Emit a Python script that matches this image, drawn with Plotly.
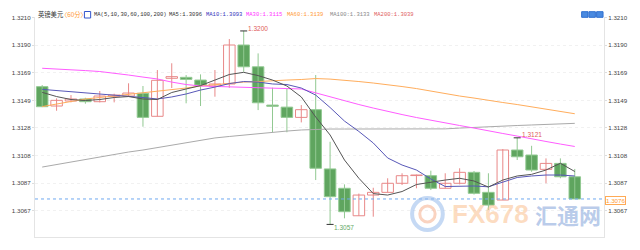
import plotly.graph_objects as go

# ---------------- data ----------------
OPEN = [1.31588, 1.31445, 1.31482, 1.31497, 1.31477, 1.31517, 1.31519, 1.31539, 1.31369, 1.31650,
        1.31657, 1.31637, 1.31593, 1.31608, 1.31896, 1.31735, 1.31452, 1.31437, 1.31361, 1.31418,
        1.30980, 1.30837, 1.30634, 1.30787, 1.30807, 1.30874, 1.30931, 1.30930, 1.30837, 1.30874,
        1.30955, 1.30807, 1.30750, 1.31120, 1.31083, 1.30977, 1.31021, 1.30922]
HIGH = [1.31600, 1.31502, 1.31526, 1.31506, 1.31556, 1.31536, 1.31613, 1.31593, 1.31711, 1.31761,
        1.31674, 1.31679, 1.31711, 1.31940, 1.32000, 1.31834, 1.31580, 1.31571, 1.31452, 1.31674,
        1.31181, 1.30866, 1.30798, 1.30841, 1.30911, 1.30948, 1.30938, 1.30967, 1.30948, 1.30985,
        1.30965, 1.30948, 1.31127, 1.31210, 1.31151, 1.31058, 1.31058, 1.30980]
LOW = [1.31437, 1.31410, 1.31472, 1.31462, 1.31472, 1.31472, 1.31514, 1.31292, 1.31369, 1.31578,
       1.31465, 1.31445, 1.31514, 1.31580, 1.31698, 1.31415, 1.31251, 1.31251, 1.31324, 1.30898,
       1.30570, 1.30615, 1.30634, 1.30627, 1.30807, 1.30861, 1.30837, 1.30824, 1.30837, 1.30866,
       1.30791, 1.30676, 1.30750, 1.31046, 1.30959, 1.30874, 1.30911, 1.30758]
CLOSE = [1.31440, 1.31487, 1.31497, 1.31477, 1.31519, 1.31526, 1.31541, 1.31361, 1.31635, 1.31662,
         1.31642, 1.31600, 1.31608, 1.31896, 1.31735, 1.31469, 1.31443, 1.31361, 1.31418, 1.30985,
         1.30775, 1.30664, 1.30787, 1.30807, 1.30874, 1.30930, 1.30935, 1.30837, 1.30874, 1.30955,
         1.30800, 1.30713, 1.31120, 1.31070, 1.30972, 1.31021, 1.30922, 1.30758]

MA5 = [1.31546, 1.31515, 1.31493, 1.31486, 1.31493, 1.31508, 1.31515, 1.31497, 1.31493, 1.31545,
       1.31571, 1.31596, 1.31637, 1.31678, 1.31694, 1.31670, 1.31637, 1.31593, 1.31512, 1.31364,
       1.31231, 1.31046, 1.30911, 1.30798, 1.30787, 1.30813, 1.30865, 1.30883, 1.30898, 1.30911,
       1.30891, 1.30846, 1.30898, 1.30928, 1.30940, 1.30972, 1.31022, 1.30961]
MA10 = [1.31568, 1.31560, 1.31552, 1.31541, 1.31534, 1.31526, 1.31519, 1.31508, 1.31497, 1.31512,
        1.31534, 1.31563, 1.31585, 1.31611, 1.31626, 1.31622, 1.31608, 1.31604, 1.31578, 1.31526,
        1.31434, 1.31334, 1.31257, 1.31172, 1.31061, 1.31009, 1.30972, 1.30906, 1.30850, 1.30854,
        1.30854, 1.30848, 1.30883, 1.30917, 1.30928, 1.30935, 1.30935, 1.30928]
MA30 = [1.31724, 1.31720, 1.31715, 1.31707, 1.31700, 1.31689, 1.31674, 1.31659, 1.31645, 1.31622,
        1.31604, 1.31593, 1.31589, 1.31585, 1.31582, 1.31578, 1.31574, 1.31574, 1.31571, 1.31541,
        1.31512, 1.31482, 1.31456, 1.31430, 1.31404, 1.31382, 1.31360, 1.31342, 1.31319, 1.31301,
        1.31282, 1.31260, 1.31242, 1.31223, 1.31201, 1.31183, 1.31164, 1.31146]
MA60 = [1.31441, 1.31460, 1.31482, 1.31497, 1.31508, 1.31519, 1.31530, 1.31541, 1.31552, 1.31563,
        1.31578, 1.31593, 1.31604, 1.31615, 1.31622, 1.31626, 1.31633, 1.31637, 1.31641, 1.31648,
        1.31644, 1.31637, 1.31626, 1.31615, 1.31604, 1.31589, 1.31574, 1.31556, 1.31534, 1.31519,
        1.31504, 1.31486, 1.31471, 1.31456, 1.31438, 1.31419, 1.31401, 1.31388]
MA100 = [1.30994, 1.31013, 1.31031, 1.31050, 1.31068, 1.31087, 1.31105, 1.31120, 1.31138, 1.31157,
         1.31175, 1.31194, 1.31209, 1.31220, 1.31231, 1.31242, 1.31253, 1.31260, 1.31268, 1.31273,
         1.31275, 1.31275, 1.31275, 1.31275, 1.31275, 1.31275, 1.31275, 1.31275, 1.31276, 1.31282,
         1.31288, 1.31292, 1.31297, 1.31301, 1.31305, 1.31308, 1.31312, 1.31317]

TICK_VALS = [1.306699, 1.308742, 1.310785, 1.312828, 1.314871, 1.316914, 1.318957, 1.321000]
TICK_TEXT = ["1.3067", "1.3087", "1.3108", "1.3128", "1.3149", "1.3169", "1.3190", "1.3210"]

LEGEND_ITEMS = [("MA5:1.3096", "#333333"), ("MA10:1.3093", "#3333bb"), ("MA30:1.3115", "#ff33ff"),
                ("MA60:1.3139", "#ff9933"), ("MA100:1.3133", "#888888"), ("MA200:1.3039", "#e06060")]

# ---------------- figure ----------------
N = len(OPEN)
X = list(range(N))
inc = [c >= o for o, c in zip(OPEN, CLOSE)]

GREEN_FILL = "#5fa55f"
GREEN_LINE = "#92c992"
RED_LINE = "#e88888"

fig = go.Figure()


def wick(mask):
    xs, ys = [], []
    for i in X:
        if mask[i]:
            xs += [i, i, None]
            ys += [LOW[i], HIGH[i], None]
    return xs, ys


wx, wy = wick(inc)
fig.add_trace(go.Scatter(x=wx, y=wy, mode="lines", line=dict(color=RED_LINE, width=1),
                         hoverinfo="skip", showlegend=False))
wx, wy = wick([not v for v in inc])
fig.add_trace(go.Scatter(x=wx, y=wy, mode="lines", line=dict(color=GREEN_LINE, width=1),
                         hoverinfo="skip", showlegend=False))

ii = [i for i in X if inc[i]]
fig.add_trace(go.Bar(x=ii, base=[OPEN[i] for i in ii], y=[CLOSE[i] - OPEN[i] for i in ii],
                     width=0.8, marker=dict(color="white", line=dict(color=RED_LINE, width=1)),
                     showlegend=False))
dd = [i for i in X if not inc[i]]
fig.add_trace(go.Bar(x=dd, base=[OPEN[i] for i in dd], y=[CLOSE[i] - OPEN[i] for i in dd],
                     width=0.8, marker=dict(color=GREEN_FILL, line=dict(color=GREEN_LINE, width=1)),
                     showlegend=False))

for vals, col in [(MA100, "#aaaaaa"), (MA60, "#ffad5c"), (MA30, "#ff5cff"),
                  (MA10, "#5858b8"), (MA5, "#555555")]:
    fig.add_trace(go.Scatter(x=X, y=vals, mode="lines", line=dict(color=col, width=1),
                             hoverinfo="skip", showlegend=False))

# extreme markers
ih = HIGH.index(max(HIGH))
il = LOW.index(min(LOW))
ih2 = 33
fig.add_trace(go.Scatter(x=[ih, il, ih2], y=[HIGH[ih], LOW[il], HIGH[ih2]], mode="markers",
                         marker=dict(symbol="line-ew", size=5, line=dict(color="#333", width=1)),
                         showlegend=False, hoverinfo="skip"))

# right axis carrier (invisible)
fig.add_trace(go.Scatter(x=X, y=CLOSE, yaxis="y2", mode="lines", line=dict(width=0),
                         opacity=0, showlegend=False, hoverinfo="skip"))

YR = [1.30477, 1.32103]
axis_common = dict(range=YR, tickvals=TICK_VALS, ticktext=TICK_TEXT, showgrid=True,
                   gridcolor="#f1f1f1", griddash="dot", zeroline=False,
                   tickfont=dict(family="Liberation Sans, Arial", size=6.2, color="#444"),
                   ticks="outside", ticklen=2, tickcolor="#dddddd",
                   showline=True, linecolor="#e4e4e4", linewidth=1)

fig.update_layout(
    width=640, height=250,
    margin=dict(l=22, r=25, t=17, b=13),
    paper_bgcolor="white", plot_bgcolor="white",
    barmode="overlay",
    showlegend=False,
    xaxis=dict(range=[-0.5, 39.03], showticklabels=False, showgrid=False, zeroline=False,
               showline=True, linecolor="#e4e4e4", ticks=""),
    yaxis=dict(side="left", **axis_common),
    yaxis2=dict(side="right", overlaying="y", **axis_common),
)

# current price line
last = CLOSE[-1]
fig.add_shape(type="line", xref="paper", x0=0, x1=1, yref="y", y0=last, y1=last,
              line=dict(color="#6fa8f0", width=1, dash="dot"))
fig.add_annotation(xref="paper", x=1, xanchor="left", xshift=1, yref="y", y=last, yshift=-2,
                   text=f"{last:.4f}", showarrow=False, bgcolor="white",
                   bordercolor="#ffaa55", borderwidth=1, borderpad=0,
                   font=dict(family="Liberation Sans, Arial", size=6.2, color="#ff9933"))

# high / low labels
lab_font = dict(family="Liberation Sans, Arial", size=6.5)
fig.add_annotation(x=ih + 0.15, y=HIGH[ih] + 0.00016, xanchor="left", yanchor="middle",
                   text=f"{HIGH[ih]:.4f}", showarrow=False, font=dict(color="#e05a5a", **lab_font))
fig.add_annotation(x=ih2 + 0.2, y=HIGH[ih2] + 0.00028, xanchor="left", yanchor="middle",
                   text=f"{HIGH[ih2]:.4f}", showarrow=False, font=dict(color="#e05a5a", **lab_font))
fig.add_annotation(x=il + 0.15, y=LOW[il] - 0.00021, xanchor="left", yanchor="middle",
                   text=f"{LOW[il]:.4f}", showarrow=False, font=dict(color="#66aa66", **lab_font))

# header
def px(p):
    return (p - 22) / 593.0


def py(p):
    return (237 - p) / 220.0


hdr_y = py(14.8)
mono = "Liberation Mono, DejaVu Sans Mono, monospace"
fig.add_annotation(xref="paper", yref="paper", x=px(23), y=hdr_y, xanchor="left", yanchor="middle",
                   text="英镑美元", showarrow=False,
                   font=dict(family="Noto Sans CJK SC", size=6.3, color="#333"))
fig.add_annotation(xref="paper", yref="paper", x=px(47.5), y=hdr_y, xanchor="left", yanchor="middle",
                   text="〈60分〉", showarrow=False,
                   font=dict(family="Noto Sans CJK SC", size=6.3, color="#ff9933"))
fig.add_shape(type="rect", xref="paper", yref="paper", x0=px(73.5), x1=px(80), y0=py(18), y1=py(11.5),
              line=dict(color="#3355cc", width=1), fillcolor="white")
fig.add_annotation(xref="paper", yref="paper", x=px(81), y=hdr_y, xanchor="left", yanchor="middle",
                   text="MA(5,10,30,60,100,200)", showarrow=False,
                   font=dict(family=mono, size=5.5, color="#333"))
for (txt, col), xp in zip(LEGEND_ITEMS, [160, 198, 240, 283, 327, 373]):
    fig.add_annotation(xref="paper", yref="paper", x=px(xp), y=hdr_y, xanchor="left", yanchor="middle",
                       text=txt, showarrow=False, font=dict(family=mono, size=5.5, color=col))

for a, b in [(591.7, 598.3), (599.3, 606), (607.3, 614)]:
    fig.add_shape(type="rect", xref="paper", yref="paper", x0=px(a), x1=px(b), y0=py(17.3), y1=py(11.7),
                  line=dict(color="#2f6fcf", width=1), fillcolor="#4a8ae0")

# watermark
fig.add_shape(type="circle", xref="paper", yref="paper", x0=px(415), x1=px(447), y0=py(230), y1=py(198),
              line=dict(color="rgba(150,185,235,0.55)", width=4))
fig.add_shape(type="circle", xref="paper", yref="paper", x0=px(423), x1=px(439), y0=py(222), y1=py(206),
              line=dict(color="rgba(245,175,140,0.55)", width=3))
fig.add_annotation(xref="paper", yref="paper", x=px(497), y=py(214), xanchor="center", yanchor="middle",
                   text="<b>FX678</b>", showarrow=False,
                   font=dict(family="Liberation Sans, Arial", size=26,
                             color="rgba(250,190,140,0.55)"))
fig.add_annotation(xref="paper", yref="paper", x=px(578), y=py(214), xanchor="center", yanchor="middle",
                   text="<b>汇通网</b>", showarrow=False,
                   font=dict(family="Noto Sans CJK SC", size=22, color="rgba(140,170,220,0.6)"))

fig.write_html("out.html")
